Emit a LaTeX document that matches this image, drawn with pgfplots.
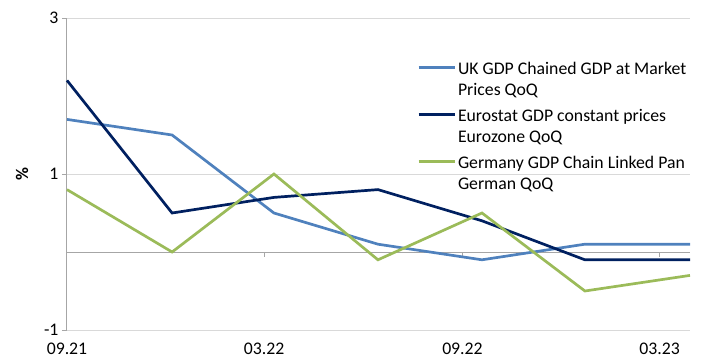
\documentclass[border=0pt]{standalone}
\usepackage{pgfplots}
\pgfplotsset{compat=1.18}
\usepackage{fontspec}
\setmainfont{Carlito}
\definecolor{ukblue}{RGB}{79,129,189}
\definecolor{eznavy}{RGB}{0,32,96}
\definecolor{degreen}{RGB}{155,187,89}
\definecolor{axgray}{RGB}{166,166,166}
\definecolor{grgray}{RGB}{217,217,217}
\newcommand{\ent}[2]{\begin{tabular}[t]{@{}l@{}}#1\\#2\end{tabular}}
\begin{document}
\begin{tikzpicture}
\begin{axis}[
  at={(0,0)}, anchor=south west,
  scale only axis, width=623bp, height=312bp,
  xmin=0, xmax=575, ymin=-1, ymax=3,
  axis x line*=bottom, axis y line*=left,
  x axis line style={grgray, line width=0.8bp},
  y axis line style={axgray, line width=1bp},
  xtick={0,182,365,547},
  xticklabels={09.21,03.22,09.22,03.23},
  x tick style={draw=none},
  xticklabel style={yshift=-4bp},
  ytick={-1,1,3},
  y tick style={axgray, line width=1bp},
  tick align=outside,
  major tick length=5bp,
  ymajorgrids,
  grid style={grgray, line width=0.8bp},
  tick label style={font=\fontsize{17.8}{20}\selectfont},
  /pgf/number format/assume math mode=true,
  legend style={draw=none, fill=none, at={(rel axis cs:0.562,0.874)}, anchor=north west,
    font=\fontsize{17.8}{21}\selectfont, inner sep=0pt, row sep=27bp},
  legend cell align=left,
  legend image code/.code={\draw[#1] (0bp,0bp) -- (36bp,0bp);},
  every axis plot/.append style={line width=2.7bp},
  clip=false,
]
\draw[axgray, line width=1bp] (axis cs:0,0) -- (axis cs:575,0);
\pgfplotsinvokeforeach{182,365,547}{\draw[axgray, line width=1bp] (axis cs:#1,0) -- (axis cs:#1,-0.065);}
\addplot[ukblue] coordinates {(0,1.7) (97,1.5) (191,0.5) (287,0.1) (383,-0.1) (478,0.1) (575,0.1)};
\addlegendentry{\ent{UK GDP Chained GDP at Market}{Prices QoQ}}
\addplot[eznavy] coordinates {(0,2.2) (97,0.5) (191,0.7) (287,0.8) (383,0.4) (478,-0.1) (575,-0.1)};
\addlegendentry{\ent{Eurostat GDP constant prices}{Eurozone QoQ}}
\addplot[degreen] coordinates {(0,0.8) (97,0.0) (191,1.0) (287,-0.1) (383,0.5) (478,-0.5) (575,-0.3)};
\addlegendentry{\ent{Germany GDP Chain Linked Pan}{German QoQ}}
\node[rotate=90, font=\fontsize{17.8}{20}\selectfont\bfseries] at ([xshift=-45bp]rel axis cs:0,0.5) {\%};
\end{axis}
\path[use as bounding box] (-67bp,-30bp) rectangle (635bp,330bp);
\end{tikzpicture}
\end{document}
